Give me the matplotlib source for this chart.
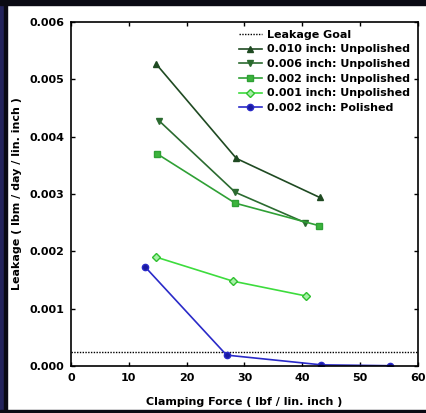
import matplotlib
matplotlib.use('Agg')
import matplotlib.pyplot as plt
from matplotlib.patches import Rectangle

# data
goal = 0.00025

x_010 = [14.7, 28.6, 43.0]
y_010 = [0.00527, 0.00362, 0.00294]

x_006 = [15.2, 28.4, 40.5]
y_006 = [0.00428, 0.00303, 0.00250]

x_002u = [14.9, 28.4, 42.8]
y_002u = [0.00370, 0.00284, 0.00245]

x_001 = [14.7, 28.0, 40.7]
y_001 = [0.00190, 0.00148, 0.00122]

x_002p = [12.8, 26.9, 43.3, 55.1]
y_002p = [0.00173, 0.00019, 0.00002, 0.000005]

W, H = 427, 413
fig = plt.figure(figsize=(W / 100, H / 100), dpi=100, facecolor='white')

# frame around the picture (navy strip + black edges)
fig.patches.append(Rectangle((0, 0), 4 / W, 1, transform=fig.transFigure, color='#23235c', zorder=0))
fig.patches.append(Rectangle((4 / W, 0), 3 / W, 1, transform=fig.transFigure, color='#0a0a14', zorder=0))
fig.patches.append(Rectangle((0, 1 - 5 / H), 1, 5 / H, transform=fig.transFigure, color='#0a0a14', zorder=0))
fig.patches.append(Rectangle((0, 0), 1, 3 / H, transform=fig.transFigure, color='#0a0a14', zorder=0))

ax = fig.add_axes([71 / W, 1 - 366 / H, (418 - 71) / W, (366 - 22) / H])

bold = dict(fontweight='bold', fontsize=8)

ax.axhline(goal, color='black', linestyle=(0, (1, 1)), linewidth=1, label='Leakage Goal')
ax.plot(x_010, y_010, color='#1f4a22', marker='^', markersize=4, linewidth=1.2,
        label='0.010 inch: Unpolished')
ax.plot(x_006, y_006, color='#2b6b30', marker='v', markersize=4, linewidth=1.2,
        label='0.006 inch: Unpolished')
ax.plot(x_002u, y_002u, color='#2fa035', marker='s', markersize=4, markerfacecolor='#3cb43c',
        linewidth=1.2, label='0.002 inch: Unpolished')
ax.plot(x_001, y_001, color='#3ddc3d', marker='D', markersize=4, markerfacecolor='#a8f0a8',
        markeredgecolor='#2fc02f', linewidth=1.2, label='0.001 inch: Unpolished')
ax.plot(x_002p, y_002p, color='#2a2ac8', marker='o', markersize=4.5, markerfacecolor='#1a1aa0',
        linewidth=1.2, label='0.002 inch: Polished')

ax.set_xlim(0, 60)
ax.set_ylim(0, 0.006)
ax.set_xticks([0, 10, 20, 30, 40, 50, 60])
ax.set_yticks([0, 0.001, 0.002, 0.003, 0.004, 0.005, 0.006])
ax.set_yticklabels(['0.000', '0.001', '0.002', '0.003', '0.004', '0.005', '0.006'])
ax.tick_params(direction='in', top=True, right=True, length=3, width=1, labelsize=8, pad=5)
for lab in ax.get_xticklabels() + ax.get_yticklabels():
    lab.set_fontweight('bold')
for s in ax.spines.values():
    s.set_linewidth(1.2)

ax.set_xlabel('Clamping Force ( lbf / lin. inch )', labelpad=10, **bold)
ax.set_ylabel('Leakage ( lbm / day / lin. inch )', labelpad=5, **bold)

leg = ax.legend(loc='upper right', frameon=False, fontsize=8, handlelength=2.0,
                handletextpad=0.5, labelspacing=0.42, borderaxespad=0.3)
for t in leg.get_texts():
    t.set_fontweight('bold')

fig.savefig('out.png', dpi=100, facecolor=fig.get_facecolor())
